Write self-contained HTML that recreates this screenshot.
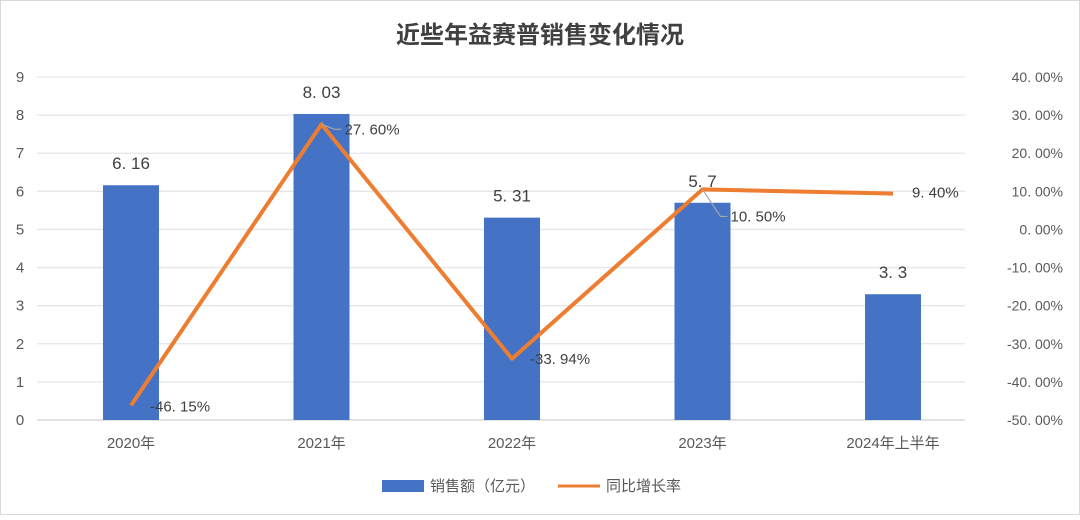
<!DOCTYPE html>
<html><head><meta charset="utf-8"><style>
body{margin:0;background:#fff;}
svg text{font-family:"Liberation Sans","Noto Sans CJK SC",sans-serif;}
</style></head><body>
<svg id="chart" width="1080" height="515" xmlns="http://www.w3.org/2000/svg">
<rect x="0.5" y="0.5" width="1079" height="514" fill="#fff" stroke="#d9d9d9"/>
<text x="540" y="43" text-anchor="middle" font-size="24" font-weight="bold" fill="#404040">近些年益赛普销售变化情况</text>
<g id="grid"></g><g id="bars"></g><g id="line"></g><g id="labels"></g>
<g>
<rect x="382" y="480" width="42" height="12" fill="#4472c4"/>
<text x="430" y="491" font-size="15" fill="#595959">销售额（亿元）</text>
<line x1="558" y1="486" x2="600" y2="486" stroke="#ed7d31" stroke-width="3"/>
<text x="606" y="491" font-size="15" fill="#595959">同比增长率</text>
</g>
</svg>
<script>
const categories=["2020年","2021年","2022年","2023年","2024年上半年"];
const sales=[6.16,8.03,5.31,5.7,3.3];
const salesLabels=["6.16","8.03","5.31","5.7","3.3"];
const growth=[-46.15,27.60,-33.94,10.50,9.40];
const growthLabels=["-46.15%","27.60%","-33.94%","10.50%","9.40%"];
const leftTicks=[0,1,2,3,4,5,6,7,8,9];
const rightTicks=[40,30,20,10,0,-10,-20,-30,-40,-50];

const NS="http://www.w3.org/2000/svg";
const yTop=77,yBot=420;
const yL=v=>yBot-(v/9)*(yBot-yTop);
const yR=v=>yBot-((v+50)/90)*(yBot-yTop);
const xC=i=>131+i*190.5;
const sp=s=>s.replace('.','. ');
function mk(tag,attrs,parent){const e=document.createElementNS(NS,tag);for(const k in attrs)e.setAttribute(k,attrs[k]);document.getElementById(parent).appendChild(e);return e;}
leftTicks.forEach(t=>{
  const g=mk('line',{x1:37,x2:965,y1:yL(t),y2:yL(t),stroke:t===0?'#d0d0d0':'#e6e6e6','stroke-width':1.3},'grid');
  
  
  const l=mk('text',{x:20,y:yL(t)+5,'text-anchor':'middle','font-size':15,fill:'#595959'},'grid');l.textContent=t;
  
  
});
rightTicks.forEach(t=>{
  const l=mk('text',{x:1063,y:yR(t)+5,'text-anchor':'end','font-size':14,fill:'#595959'},'grid');l.textContent=sp(t.toFixed(2))+'%';
  
  
});
categories.forEach((c,i)=>{
  const l=mk('text',{x:xC(i),y:448,'text-anchor':'middle','font-size':15,fill:'#595959'},'grid');l.textContent=c;
  
  
  const b=mk('rect',{x:xC(i)-28,y:yL(sales[i]),width:56,height:yBot-yL(sales[i]),fill:'#4472c4'},'bars');
  
  
  const t=mk('text',{x:xC(i),y:yL(sales[i])-16,'text-anchor':'middle','font-size':17,fill:'#404040'},'labels');t.textContent=sp(salesLabels[i]);
  
  
});
const pts=growth.map((g,i)=>xC(i)+','+yR(g)).join(' ');
const pl=mk('polyline',{points:pts,fill:'none',stroke:'#ed7d31','stroke-width':4,'stroke-linejoin':'round'},'line');


const offs=[[19,1],[23,5],[18,0],[28,27],[19,-1]];
growth.forEach((g,i)=>{
  const x=xC(i)+offs[i][0],y=yR(g)+offs[i][1];
  if(i===1||i===3){const c=mk('polyline',{points:`${xC(i)},${yR(g)} ${x-10},${y} ${x-3},${y}`,fill:'none',stroke:'#a6a6a6','stroke-width':1.2},'labels');
    
    }
  const t=mk('text',{x:x,y:y+5,'font-size':15,fill:'#404040'},'labels');t.textContent=sp(growthLabels[i]);
  
  
});
</script>
</body></html>
